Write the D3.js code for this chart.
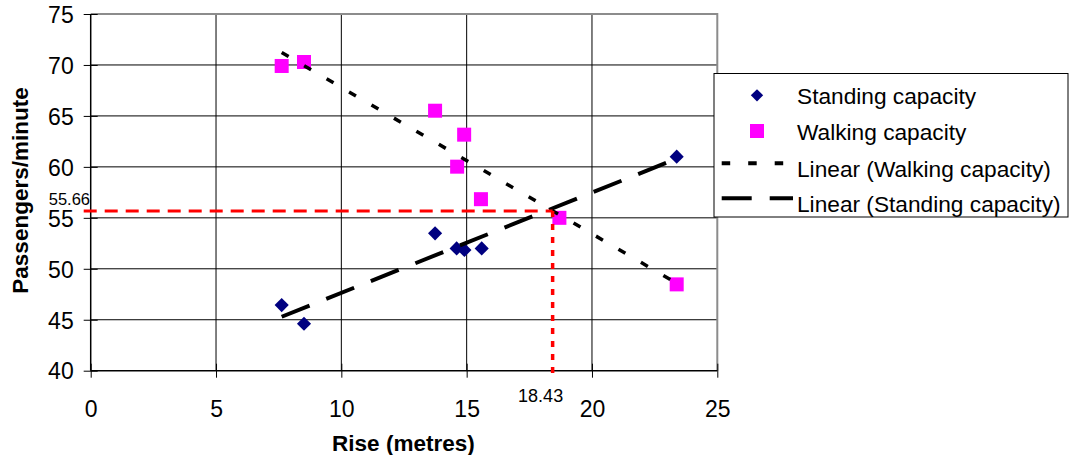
<!DOCTYPE html>
<html><head><meta charset="utf-8">
<script src="https://cdn.jsdelivr.net/npm/d3@7"></script>
<style>
html,body{margin:0;padding:0;background:#fff;}
svg{display:block;font-family:"Liberation Sans",Arial,sans-serif;}
</style></head>
<body>
<svg id="chart" width="1070" height="455"></svg>
<script>
// ---- data ----
const standingX = [7.62, 8.51, 13.74, 14.6, 14.91, 15.6, 23.38];
const standingY = [46.44, 44.61, 53.48, 52.0, 51.84, 52.0, 61.0];
const walkingX = [7.62, 8.51, 13.74, 14.9, 14.62, 15.57, 18.7, 23.38];
const walkingY = [69.9, 70.29, 65.51, 63.16, 60.02, 56.83, 55.0, 48.47];
const xTicks = [0, 5, 10, 15, 20, 25];
const yTicks = [40, 45, 50, 55, 60, 65, 70, 75];
const intersection = [18.43, 55.66];
const intersectionLabels = ["18.43", "55.66"];
const legendLabels = ["Standing capacity", "Walking capacity", "Linear (Walking capacity)", "Linear (Standing capacity)"];
const xTitle = "Rise (metres)";
const yTitle = "Passengers/minute";

// ---- layout ----
const L = 90.7, R = 717.3, T = 14, B = 370.7;
const svg = d3.select("#chart");
const x = d3.scaleLinear().domain([0, 25]).range([L, R]);
const y = d3.scaleLinear().domain([40, 75]).range([B, T]);

function fit(xs, ys) {
  const n = xs.length, mx = d3.mean(xs), my = d3.mean(ys);
  let sxy = 0, sxx = 0;
  for (let i = 0; i < n; i++) { sxy += (xs[i] - mx) * (ys[i] - my); sxx += (xs[i] - mx) ** 2; }
  const b = sxy / sxx, a = my - b * mx;
  const x0 = d3.min(xs), x1 = d3.max(xs);
  return [[x0, a + b * x0], [x1, a + b * x1]];
}

// gridlines
const grid = svg.append("g");
grid.selectAll(".h").data(yTicks.filter(v => v > 40 && v < 75)).join("line")
  .attr("x1", L).attr("x2", R).attr("y1", d => y(d)).attr("y2", d => y(d))
  .attr("stroke", "#000").attr("stroke-width", 1);
grid.selectAll(".v").data(xTicks.filter(v => v > 0 && v < 25)).join("line")
  .attr("y1", T).attr("y2", B).attr("x1", d => x(d)).attr("x2", d => x(d))
  .attr("stroke", "#000").attr("stroke-width", 1);
// plot border top/right
svg.append("path").attr("d", `M${L},${T}H${R}V${B}`).attr("fill", "none")
  .attr("stroke", "#8c8c8c").attr("stroke-width", 2);

// axes
const fs = 23;
const yAxis = svg.append("g").attr("transform", `translate(${L},0)`)
  .call(d3.axisLeft(y).tickValues(yTicks).tickSize(7).tickFormat(d3.format("d")));
yAxis.select(".domain").attr("d", `M0,${B}V${T}`).attr("stroke", "#000").attr("stroke-width", 1.5);
yAxis.selectAll(".tick line").attr("x1", -7).attr("x2", 7).attr("stroke", "#000");
yAxis.selectAll(".tick text").attr("x", -17).attr("dy", "0.36em")
  .attr("font-size", fs).attr("fill", "#000").attr("font-family", "Liberation Sans, Arial, sans-serif");

const xAxis = svg.append("g").attr("transform", `translate(0,${B})`)
  .call(d3.axisBottom(x).tickValues(xTicks).tickSize(7).tickFormat(d3.format("d")));
xAxis.select(".domain").attr("d", `M${L},0H${R}`).attr("stroke", "#000").attr("stroke-width", 1.5);
xAxis.selectAll(".tick line").attr("y1", -7).attr("y2", 7).attr("stroke", "#000");
xAxis.selectAll(".tick text").attr("y", 46.3).attr("dy", 0)
  .attr("font-size", fs).attr("fill", "#000").attr("font-family", "Liberation Sans, Arial, sans-serif");

// titles
svg.append("text").attr("x", 403.4).attr("y", 450.7).attr("text-anchor", "middle")
  .attr("font-size", 22.5).attr("font-weight", "bold").text(xTitle);
svg.append("text").attr("transform", "translate(28,190.5) rotate(-90)").attr("text-anchor", "middle")
  .attr("font-size", 22.5).attr("font-weight", "bold").text(yTitle);

// markers
const diamond = d3.symbol().type(d3.symbolSquare).size(100);
svg.append("g").selectAll("path").data(d3.zip(standingX, standingY)).join("path")
  .attr("transform", d => `translate(${x(d[0])},${y(d[1])}) rotate(45)`)
  .attr("d", diamond).attr("fill", "#000080");
svg.append("g").selectAll("rect").data(d3.zip(walkingX, walkingY)).join("rect")
  .attr("x", d => x(d[0]) - 7).attr("y", d => y(d[1]) - 7)
  .attr("width", 14).attr("height", 14).attr("fill", "#ff00ff");

// trend lines
const line = d3.line().x(d => x(d[0])).y(d => y(d[1]));
svg.append("path").attr("d", line(fit(walkingX, walkingY))).attr("fill", "none")
  .attr("stroke", "#000").attr("stroke-width", 3.5).attr("stroke-dasharray", "8,18");
svg.append("path").attr("d", line(fit(standingX, standingY))).attr("fill", "none")
  .attr("stroke", "#000").attr("stroke-width", 4).attr("stroke-dasharray", "30,18");

// red reference lines
svg.append("line").attr("x1", x(0) - 7).attr("x2", x(intersection[0]))
  .attr("y1", y(intersection[1])).attr("y2", y(intersection[1]))
  .attr("stroke", "#ff0000").attr("stroke-width", 3).attr("stroke-dasharray", "13,8");
svg.append("line").attr("x1", x(intersection[0])).attr("x2", x(intersection[0]))
  .attr("y1", y(intersection[1])).attr("y2", y(40) + 5)
  .attr("stroke", "#ff0000").attr("stroke-width", 3.5).attr("stroke-dasharray", "6,7");
svg.append("text").attr("x", x(intersection[0]) - 12).attr("y", 402.3).attr("text-anchor", "middle")
  .attr("font-size", 18).text(intersectionLabels[0]);
svg.append("text").attr("x", 90).attr("y", 205).attr("text-anchor", "end")
  .attr("font-size", 16.5).text(intersectionLabels[1]);

// legend
const lg = svg.append("g");
lg.append("rect").attr("x", 714).attr("y", 73.5).attr("width", 354).attr("height", 143.5)
  .attr("fill", "#fff").attr("stroke", "#000").attr("stroke-width", 1);
const baselines = [104, 140, 176.7, 211.7];
const symY = [95.3, 131, 163.3, 198.3];
lg.selectAll("text").data(legendLabels).join("text")
  .attr("x", 797).attr("y", (d, i) => baselines[i]).attr("font-size", 22.7).text(d => d);
lg.append("path").attr("transform", `translate(757,${symY[0]}) rotate(45)`)
  .attr("d", d3.symbol().type(d3.symbolSquare).size(76)).attr("fill", "#000080");
lg.append("rect").attr("x", 750).attr("y", symY[1] - 7).attr("width", 14).attr("height", 14).attr("fill", "#ff00ff");
lg.append("line").attr("x1", 721.7).attr("x2", 793).attr("y1", symY[2]).attr("y2", symY[2])
  .attr("stroke", "#000").attr("stroke-width", 4).attr("stroke-dasharray", "8.5,18");
lg.append("line").attr("x1", 721.7).attr("x2", 793).attr("y1", symY[3]).attr("y2", symY[3])
  .attr("stroke", "#000").attr("stroke-width", 4).attr("stroke-dasharray", "30,18");
</script>
</body></html>
